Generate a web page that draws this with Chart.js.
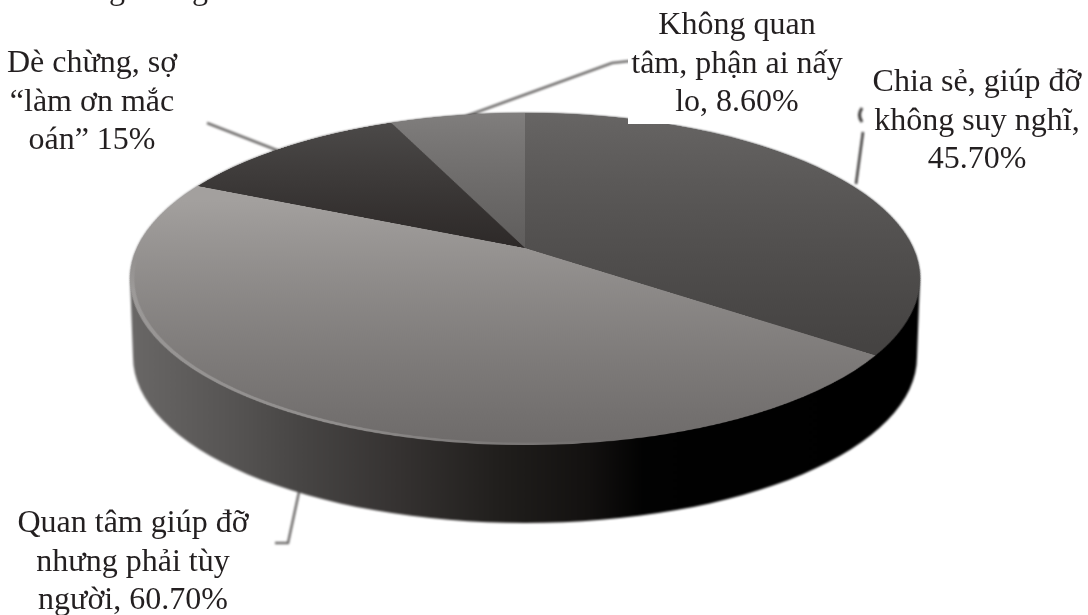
<!DOCTYPE html>
<html>
<head>
<meta charset="utf-8">
<script src="https://cdn.jsdelivr.net/npm/chart.js@4/dist/chart.umd.min.js"></script>
<style>
    html, body { margin: 0; width: 1088px; height: 615px; overflow: hidden; background: #fff; }
    canvas { position: absolute; }
    #rim { left: 0; top: 0; filter: blur(0.9px); }
    /* the pie is a flat circle tipped back, so its centre sits above the middle of the ellipse */
    #pie { left: 137px; top: -140px; transform: perspective(1893px) rotateX(65.6deg); filter: blur(0.7px); }
    #box { position: absolute; left: 628px; top: 0; width: 220px; height: 124px; background: #fff; }
    .label {
        position: absolute; text-align: center; white-space: nowrap; color: #231f20;
        font: 32px/38.5px "Liberation Serif", serif; transform: translateX(-50%); filter: blur(0.3px);
    }
</style>
</head>
<body>
<canvas id="rim" width="1088" height="615"></canvas>
<canvas id="pie" width="776" height="776"></canvas>
<div id="box"></div>
<script>
var categories = ["Chia sẻ, giúp đỡ không suy nghĩ", "Quan tâm giúp đỡ nhưng phải tùy người", "Dè chừng, sợ “làm ơn mắc oán”", "Không quan tâm, phận ai nấy lo"]
var values = [45.7, 60.7, 15, 8.6]

var labelLines = [
    ["Chia sẻ, giúp đỡ", "không suy nghĩ,", "45.70%"],
    ["Quan tâm giúp đỡ", "nhưng phải tùy", "người, 60.70%"],
    ["Dè chừng, sợ", "“làm ơn mắc", "oán” 15%"],
    ["Không quan", "tâm, phận ai nấy", "lo, 8.60%"],
    // descenders of a line cut off by the top of the page
    ["g"],
    ["g"]
]
var labelX = [977, 133, 92, 737, 117, 200]
var labelTop = [61, 502, 42, 4, -31, -31]

// leader lines, one per label
var leaders = [
    [[856, 184], [863, 132]],
    [[299, 492], [288, 543], [275, 543]],
    [[207, 123], [279, 151]],
    [[458, 119], [612, 63], [630, 61]]
]
var leaderColors = ["#3f3d3c", "#6f6d6c", "#6f6d6c", "#6f6d6c"]

// edge of the top face on screen, and how far the side wall drops
var faceX = 525, faceY = 279, faceRx = 395, faceRy = 166, depth = 78

function drawRim() {
    var c = document.getElementById("rim").getContext("2d")

    c.lineWidth = 2.5
    leaders.forEach((pts, n) => {
        c.strokeStyle = leaderColors[n]
        c.beginPath()
        pts.forEach((p, i) => i ? c.lineTo(p[0], p[1]) : c.moveTo(p[0], p[1]))
        c.stroke()
    })
    c.strokeStyle = "#3a3837"
    c.lineWidth = 3
    c.beginPath()
    c.moveTo(862, 108)
    c.quadraticCurveTo(857, 115, 862, 122)
    c.stroke()

    var side = c.createLinearGradient(faceX - faceRx, 0, faceX + faceRx, 0)
    side.addColorStop(0, "#696766")
    side.addColorStop(0.13, "#565453")
    side.addColorStop(0.215, "#474544")
    side.addColorStop(0.34, "#353231")
    side.addColorStop(0.47, "#201e1c")
    side.addColorStop(0.58, "#131110")
    side.addColorStop(0.65, "#020202")
    side.addColorStop(1, "#000")
    c.fillStyle = side
    c.beginPath()
    c.ellipse(faceX, faceY, faceRx, faceRy, 0, Math.PI, 0)
    c.lineTo(faceX + faceRx - 3, faceY + depth)
    c.ellipse(faceX, faceY + depth, faceRx - 3, faceRy, 0, 0, Math.PI)
    c.closePath()
    c.fill()
}

function drawLabels() {
    labelLines.forEach((lines, i) => {
        var d = document.createElement("div")
        d.className = "label"
        d.style.left = labelX[i] + "px"
        d.style.top = labelTop[i] + "px"
        d.innerHTML = lines.join("<br>")
        document.body.appendChild(d)
    })
}

// pale line along the front left edge of the top face, fading at both ends
var edgeLight = {
    id: "edgeLight",
    afterDatasetsDraw(chart) {
        var arc = chart.getDatasetMeta(0).data[0]
        var c = chart.ctx
        var g = c.createConicGradient(0, arc.x, arc.y)
        g.addColorStop(0.22, "rgba(170,168,167,0)")
        g.addColorStop(0.32, "rgba(170,168,167,0.55)")
        g.addColorStop(0.46, "rgba(170,168,167,0.55)")
        g.addColorStop(0.49, "rgba(170,168,167,0)")
        c.save()
        c.strokeStyle = g
        c.lineWidth = 4
        c.beginPath()
        c.arc(arc.x, arc.y, arc.outerRadius - 2, Math.PI * 0.44, Math.PI * 0.98)
        c.stroke()
        c.restore()
    }
}

window.onload = () => {
    drawRim()
    drawLabels()

    var canvas = document.getElementById("pie")
    var ctx = canvas.getContext("2d")

    var grad = (y0, y1, from, to) => {
        var g = ctx.createLinearGradient(0, y0, 0, y1)
        g.addColorStop(0, from)
        g.addColorStop(1, to)
        return g
    }

    new Chart(ctx, {
        type: "pie",
        data: {
            labels: categories,
            datasets: [{
                data: values,
                backgroundColor: [
                    grad(0, 620, "#676564", "#444241"),
                    grad(265, 768, "#a3a09e", "#6f6c6b"),
                    grad(20, 388, "#4d4b4a", "#2d2928"),
                    grad(0, 388, "#807e7d", "#5f5d5c")
                ],
                borderWidth: 0
            }]
        },
        plugins: [edgeLight],
        options: {
            responsive: false,
            animation: false,
            layout: { padding: 0 },
            plugins: { legend: { display: false }, tooltip: { enabled: false } }
        }
    })
}
</script>
</body>
</html>
